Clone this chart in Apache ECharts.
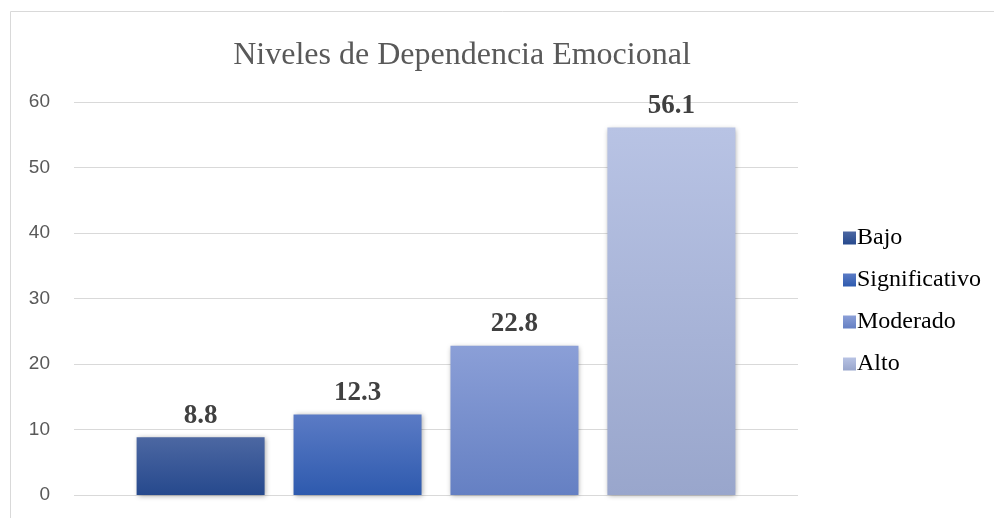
<!DOCTYPE html>
<html>
<head>
<meta charset="utf-8">
<script src="https://cdn.jsdelivr.net/npm/echarts@6/dist/echarts.min.js"></script>
<style>
  html, body { margin: 0; padding: 0; background: #fff; }
  #chart { width: 994px; height: 518px; }
</style>
</head>
<body>
<div id="chart"></div>
<script>
const categories = [""];
const seriesNames = ["Bajo", "Significativo", "Moderado", "Alto"];
const values = [8.8, 12.3, 22.8, 56.1];
const yTicks = [0, 60, 10];

// top / bottom of each bar's gradient
const colors = [
  ["#4c67a2", "#26498d"],
  ["#5b7bc5", "#2e5aae"],
  ["#8b9fd7", "#6580c3"],
  ["#b8c3e4", "#99a6cc"],
];

const chart = echarts.init(document.getElementById("chart"));

chart.setOption({
  animation: false,
  graphic: [
    {
      type: "rect",
      shape: { x: 10.5, y: 11.5, width: 1000, height: 520 },
      style: { fill: "none", stroke: "#d9d9d9", lineWidth: 1 },
    },
  ],
  title: {
    text: "Niveles de Dependencia Emocional",
    left: 457,
    top: 35,
    textAlign: "center",
    textStyle: {
      fontFamily: "Liberation Serif",
      fontSize: 32,
      fontWeight: "normal",
      color: "#595959",
    },
  },
  legend: {
    orient: "vertical",
    left: 838,
    top: 221,
    itemWidth: 13,
    itemHeight: 13,
    itemGap: 18,
    icon: "rect",
    textStyle: {
      fontFamily: "Liberation Serif",
      fontSize: 24,
      lineHeight: 23,
      color: "#000",
      padding: [0, 0, 0, -4],
    },
    data: seriesNames,
  },
  grid: {
    left: 74,
    right: 196,
    top: 102,
    bottom: 23,
    containLabel: false,
  },
  xAxis: {
    type: "category",
    data: categories,
    axisLine: { show: false },
    axisTick: { show: false },
    axisLabel: { show: false },
  },
  yAxis: {
    type: "value",
    min: yTicks[0],
    max: yTicks[1],
    interval: yTicks[2],
    axisLine: { show: false },
    axisTick: { show: false },
    axisLabel: {
      margin: 24,
      fontFamily: "Liberation Sans",
      fontSize: 19,
      color: "#595959",
    },
    splitLine: { lineStyle: { color: "#d9d9d9", width: 1 } },
  },
  series: seriesNames.map((name, i) => ({
    name: name,
    type: "bar",
    barWidth: 128,
    barGap: "22.6%",
    data: [values[i]],
    itemStyle: {
      color: new echarts.graphic.LinearGradient(0, 0, 0, 1, [
        { offset: 0, color: colors[i][0] },
        { offset: 1, color: colors[i][1] },
      ]),
      shadowColor: "rgba(0,0,0,0.35)",
      shadowBlur: 5,
      shadowOffsetX: 1,
      shadowOffsetY: 1,
    },
    label: {
      show: true,
      position: "top",
      distance: 8,
      formatter: (p) => p.value.toFixed(1),
      fontFamily: "Liberation Serif",
      fontWeight: "bold",
      fontSize: 27,
      color: "#404040",
    },
  })),
});
</script>
</body>
</html>
